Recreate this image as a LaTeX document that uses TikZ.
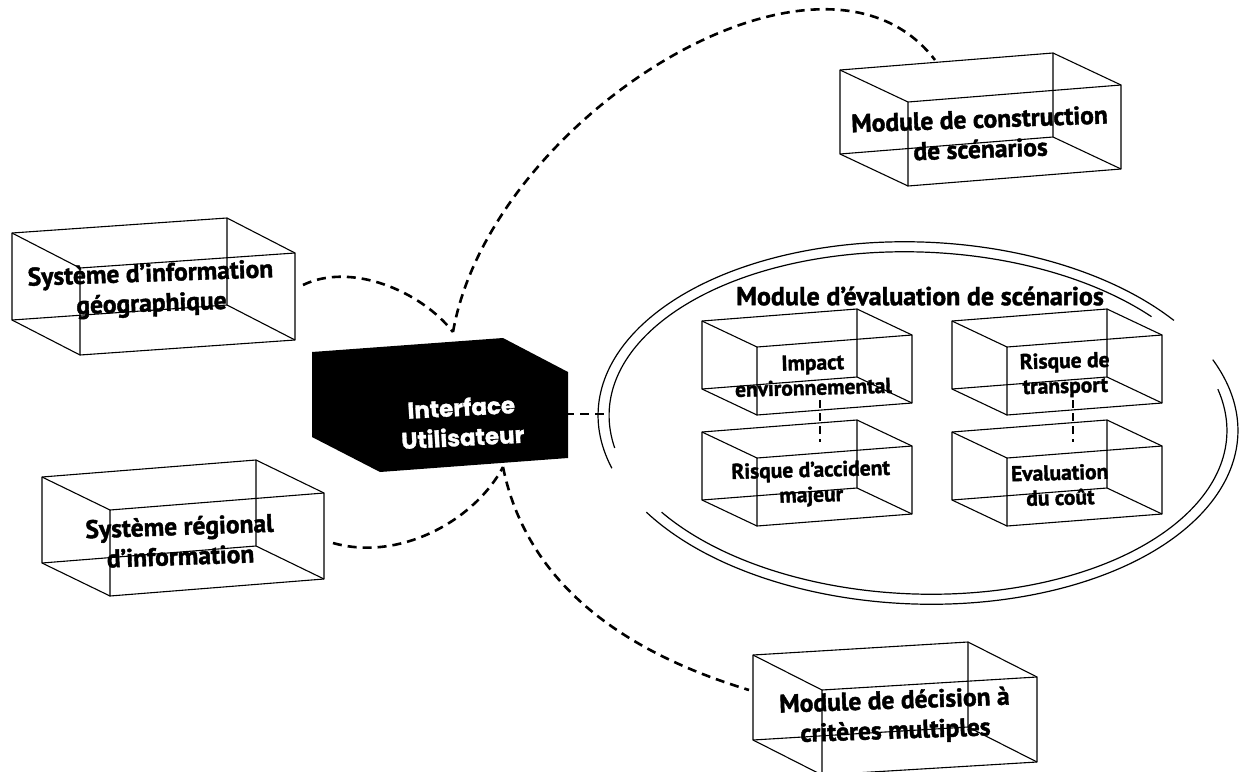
\documentclass[tikz,border=0pt]{standalone}
\usepackage{fontspec}
\setmainfont{PT Sans}[BoldFeatures={FakeBold=1.6}]
\newfontfamily\ifacefont{Poppins}[BoldFeatures={FakeBold=1.2}]
\usetikzlibrary{calc}

% A wire-frame box: name, back top-left x, y, width, rise of the top edge,
% height, depth offset x, depth offset y (y grows downwards)
\newcommand\wirebox[8]{%
  \coordinate (#1-btl) at (#2,#3);
  \coordinate (#1-btr) at ($(#1-btl)+(#4,-#5)$);
  \coordinate (#1-bbl) at ($(#1-btl)+(0,#6)$);
  \coordinate (#1-bbr) at ($(#1-btr)+(0,#6)$);
  \coordinate (#1-ftl) at ($(#1-btl)+(#7,#8)$);
  \coordinate (#1-ftr) at ($(#1-btr)+(#7,#8)$);
  \coordinate (#1-fbl) at ($(#1-bbl)+(#7,#8)$);
  \coordinate (#1-fbr) at ($(#1-bbr)+(#7,#8)$);
  \draw[edge] (#1-btl) -- (#1-btr) -- (#1-bbr) -- (#1-bbl) -- cycle;
  \draw[edge] (#1-ftl) -- (#1-ftr) -- (#1-fbr) -- (#1-fbl) -- cycle;
  \draw[edge] (#1-btl) -- (#1-ftl) (#1-btr) -- (#1-ftr)
              (#1-bbl) -- (#1-fbl) (#1-bbr) -- (#1-fbr);
}

\begin{document}
\begin{tikzpicture}[x=1pt,y=-1pt,
  edge/.style={line width=1.1pt, line join=round},
  link/.style={line width=2.6pt, dash pattern=on 9pt off 6pt},
  tie/.style={line width=1.8pt, dash pattern=on 8pt off 5pt},
  rim/.style={line width=1.2pt},
  boxtext/.style={font=\bfseries\fontsize{25.5}{30}\selectfont, align=center, rotate=2, inner sep=0pt},
  smalltext/.style={font=\bfseries\fontsize{21.5}{25}\selectfont, align=center, rotate=1.5, inner sep=0pt},
  ifacetext/.style={font=\ifacefont\bfseries\fontsize{23}{30}\selectfont, text=white, align=center, rotate=3, inner sep=0pt},
]
\useasboundingbox (0,0) rectangle (1241,771);

% outer modules
\wirebox{geo}{12}{233}{215}{15}{87}{68}{35}
\wirebox{reg}{42}{477}{214}{17}{86}{68}{33}
\wirebox{con}{840}{70}{213}{17}{84}{68}{32}
\wirebox{dec}{753}{655}{215}{13}{85}{69}{35}

\node[boxtext] (geotext) at (151,290) {Système d'information\\géographique};
\node[boxtext] (regtext) at (180,541) {Système régional\\d'information};
\node[boxtext] (context) at (980,134) {Module de construction\\de scénarios};
\node[boxtext] (dectext) at (895,717) {Module de décision à\\critères multiples};

% user interface block
\fill (312,352) -- (503,338) -- (568,372) -- (568,458) -- (380,472) -- (312,437) -- cycle;
\node[ifacetext] (iface) at (462,422) {Interface\\Utilisateur};

% evaluation module: double hand-drawn ellipse
\begin{scope}[rotate around={-2:(918,423)}]
  \draw[rim] (918,423) ++(162:320 and 181) arc[start angle=162, end angle=322, x radius=320, y radius=181];
  \draw[rim] (918,423) ++(336:320 and 181) arc[start angle=336, end angle=507, x radius=320, y radius=181];
  \draw[rim] (918,423) ++(168:309 and 171) arc[start angle=168, end angle=318, x radius=309, y radius=171];
  \draw[rim] (918,423) ++(345:309 and 171) arc[start angle=345, end angle=505, x radius=309, y radius=171];
\end{scope}
\node[font=\bfseries\fontsize{26}{28}\selectfont, inner sep=0pt] (evaltitle) at (920,296) {Module d'évaluation de scénarios};

\wirebox{imp}{702}{321}{155}{12}{68}{55}{26}
\wirebox{acc}{702}{432}{155}{12}{68}{55}{26}
\wirebox{tra}{952}{321}{155}{12}{68}{55}{26}
\wirebox{eva}{952}{432}{155}{12}{68}{55}{26}

\node[smalltext] (imptext) at (813,375) {Impact\\environnemental};
\node[smalltext] (acctext) at (811,484) {Risque d'accident\\majeur};
\node[smalltext] (tratext) at (1065,375) {Risque de\\transport};
\node[smalltext] (evatext) at (1060,485) {Evaluation\\du coût};

% links inside the evaluation module
\coordinate (imp-tie) at (820,400);
\coordinate (acc-tie) at (820,442);
\coordinate (tra-tie) at (1073,400);
\coordinate (eva-tie) at (1073,442);
\draw[tie] (imp-tie) -- (acc-tie);
\draw[tie] (tra-tie) -- (eva-tie);

% connection points
\coordinate (hub-top) at (453,332);
\coordinate (hub-bot) at (503,467);
\coordinate (hub-right) at (565,414);
\coordinate (eval-in) at (606,414);
\coordinate (geo-out) at (303,285);
\coordinate (reg-out) at (333,543);
\coordinate (con-in) at (935,60);
\coordinate (dec-in) at (749,690);

% dashed links to the user interface
\draw[link] (hub-top) .. controls (490,120) and (820,-90) .. (con-in);
\draw[link] (geo-out) .. controls (350,262) and (420,290) .. (hub-top);
\draw[link] (reg-out) .. controls (400,562) and (475,520) .. (hub-bot);
\draw[link] (hub-bot) .. controls (530,600) and (650,660) .. (dec-in);
\draw[link] (hub-right) -- (eval-in);
\end{tikzpicture}
\end{document}
